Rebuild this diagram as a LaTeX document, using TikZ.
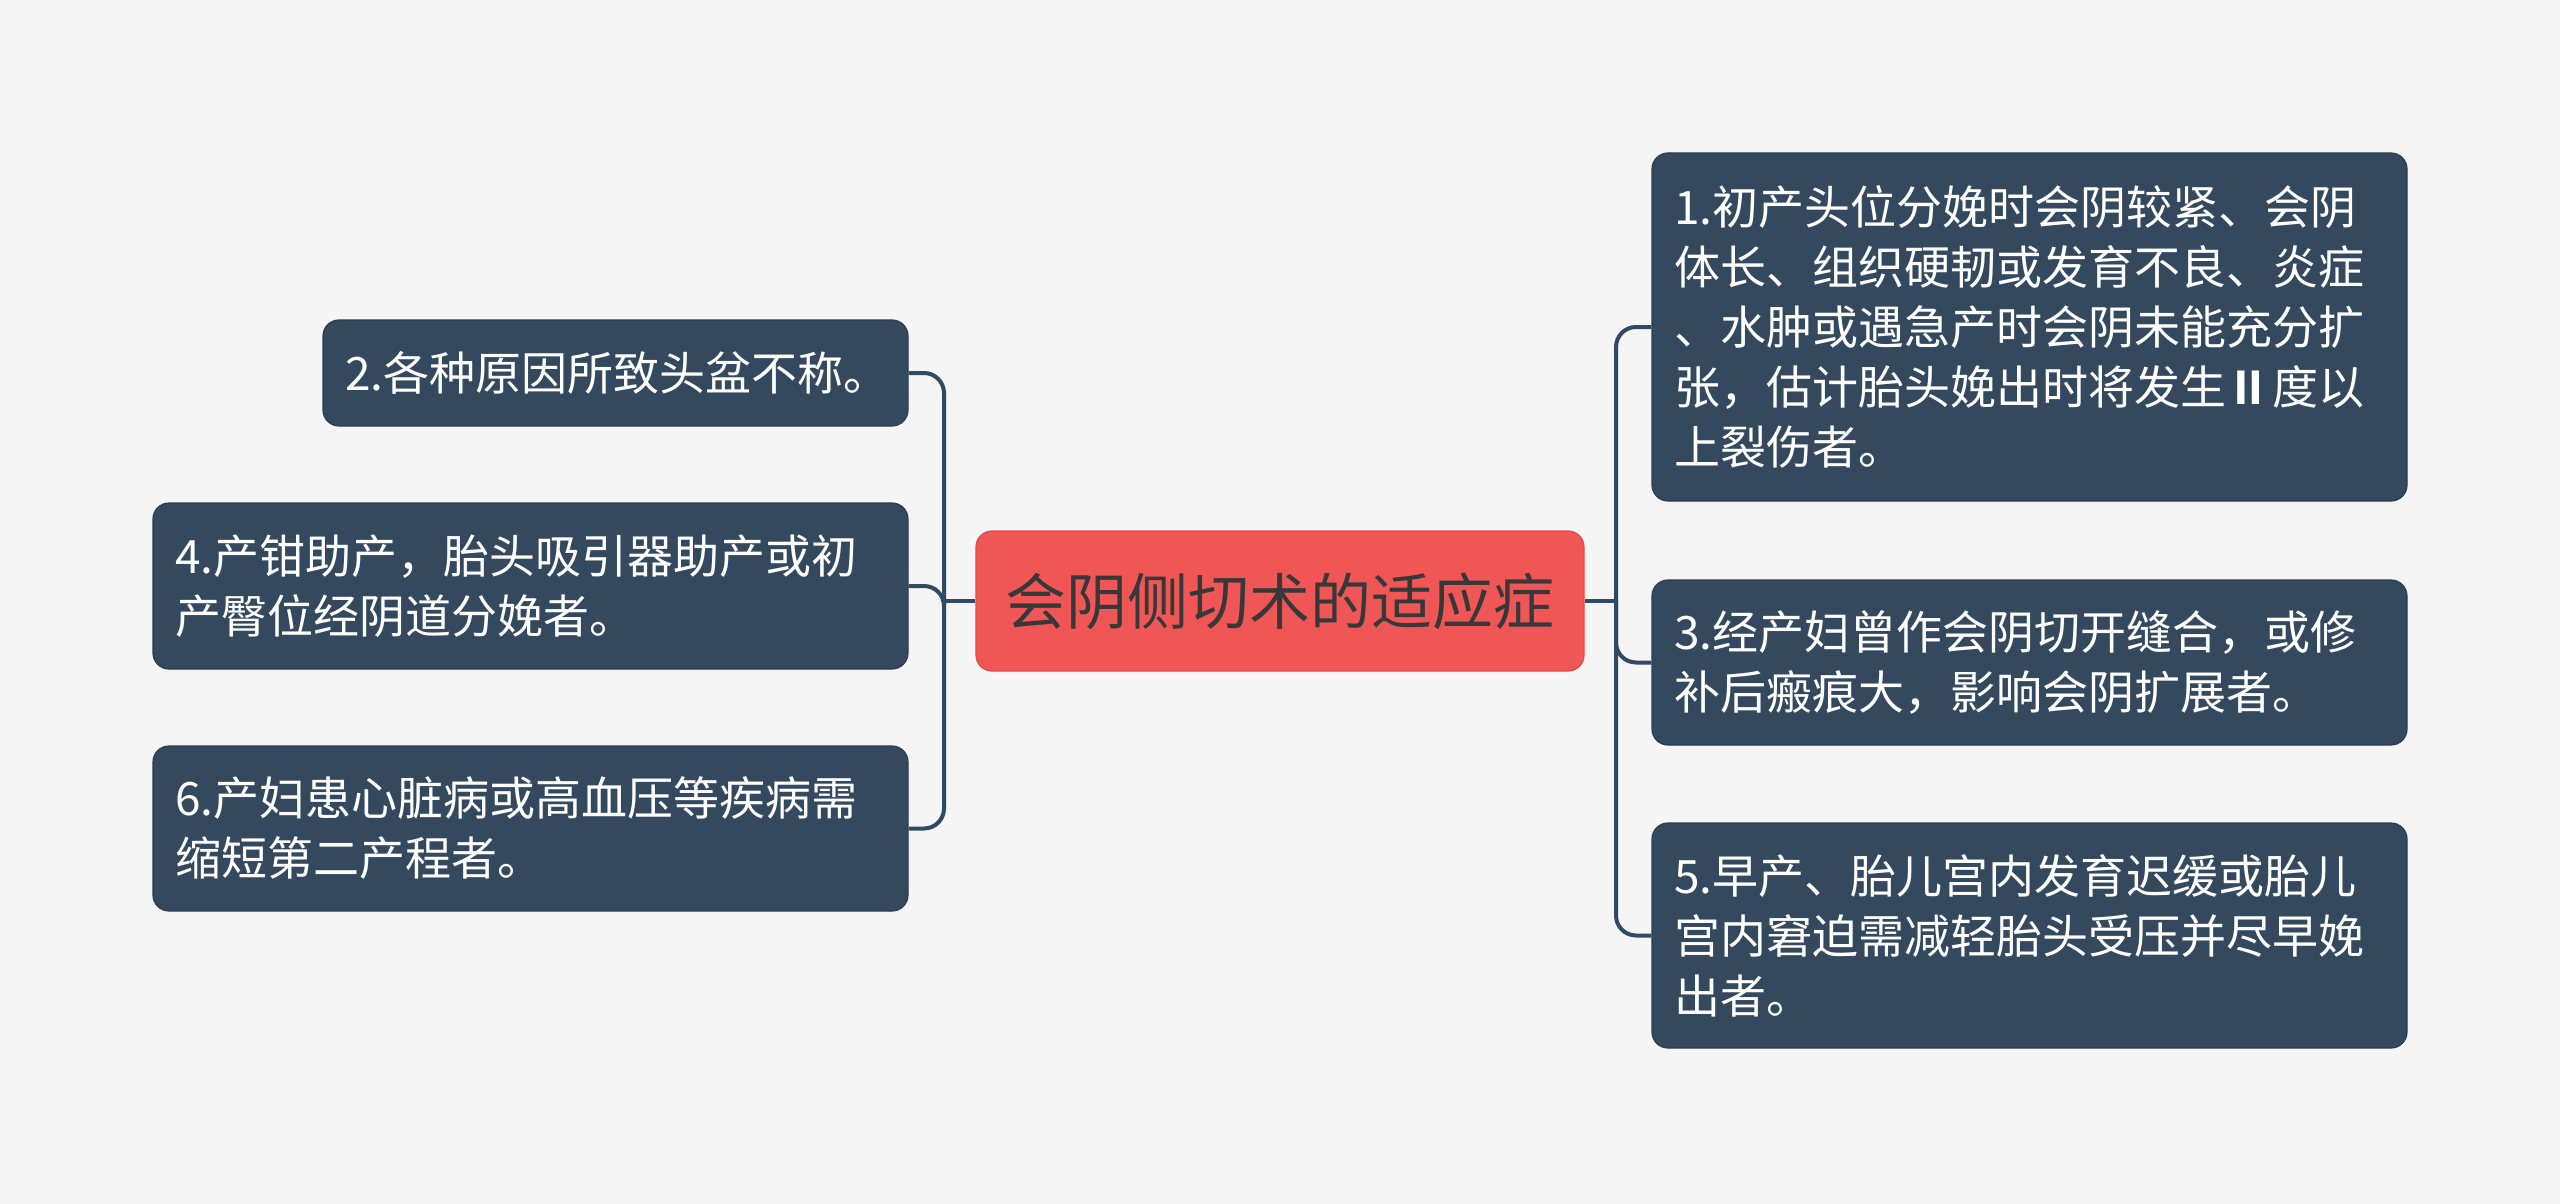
\documentclass[tikz,border=0pt]{standalone}
\usepackage{fontspec}
\usepackage{graphicx}
\newfontfamily\cjk{Noto Sans CJK SC}
\newfontfamily\djv{DejaVu Sans}
\definecolor{bg}{HTML}{F5F5F5}
\definecolor{leaffill}{HTML}{34495E}
\definecolor{leafborder}{HTML}{2C3E50}
\definecolor{linecol}{HTML}{2F4A62}
\definecolor{rootfill}{HTML}{F05656}
\definecolor{rootborder}{HTML}{E04A4A}
\definecolor{roottext}{HTML}{383838}
\tikzset{
  leaf/.style={draw=leafborder, fill=leaffill, rounded corners=8pt, line width=0.6pt,
    text=white, font=\cjk\fontsize{23}{30}\selectfont, align=left,
    inner xsep=11pt, inner ysep=0pt, anchor=center},
  rootbox/.style={draw=rootborder, fill=rootfill, rounded corners=8pt, line width=0.6pt,
    text=roottext, font=\cjk\fontsize{30.5}{36}\selectfont, align=center,
    inner sep=0pt, anchor=center},
  conn/.style={draw=linecol, line width=2pt, rounded corners=10pt},
}
\begin{document}
\begin{tikzpicture}[x=0.5pt,y=-0.5pt]
\fill[bg] (0,0) rectangle (2560,1204);
\useasboundingbox (0,0) rectangle (2560,1204);

\node[rootbox, minimum width=304pt, minimum height=70pt] (c) at (1280,601) {会阴侧切术的适应症};

% right side
\node[leaf, text width=355.5pt, minimum height=174pt] (b1) at (2029.5,327)
  {1.初产头位分娩时会阴较紧、会阴\\体长、组织硬韧或发育不良、炎症\\、水肿或遇急产时会阴未能充分扩\\张，估计胎头娩出时将发生\makebox[1em][c]{\scalebox{1.6}[1]{\djv\fontsize{23}{30}\selectfont Ⅱ}}度以\\上裂伤者。};
\node[leaf, text width=355.5pt, minimum height=82.5pt] (b3) at (2029.5,662.5)
  {3.经产妇曾作会阴切开缝合，或修\\补后瘢痕大，影响会阴扩展者。};
\node[leaf, text width=355.5pt, minimum height=112.5pt] (b5) at (2029.5,935.5)
  {5.早产、胎儿宫内发育迟缓或胎儿\\宫内窘迫需减轻胎头受压并尽早娩\\出者。};

% left side
\node[leaf, text width=270.5pt, minimum height=53pt] (b2) at (615.5,373)
  {2.各种原因所致头盆不称。};
\node[leaf, text width=355.5pt, minimum height=83pt] (b4) at (530.5,586)
  {4.产钳助产，胎头吸引器助产或初\\产臀位经阴道分娩者。};
\node[leaf, text width=355.5pt, minimum height=82.5pt] (b6) at (530.5,828.5)
  {6.产妇患心脏病或高血压等疾病需\\缩短第二产程者。};

\coordinate (Lj) at (944,601);
\coordinate (Rj) at (1616,601);

\draw[conn] (c.west) -- (Lj);
\draw[conn] (c.east) -- (Rj);
\draw[conn] (Lj) |- (b2.east);
\draw[conn] (Lj) |- (b4.east);
\draw[conn] (Lj) |- (b6.east);
\draw[conn] (Rj) |- (b1.west);
\draw[conn] (Rj) |- (b3.west);
\draw[conn] (Rj) |- (b5.west);
\end{tikzpicture}
\end{document}
